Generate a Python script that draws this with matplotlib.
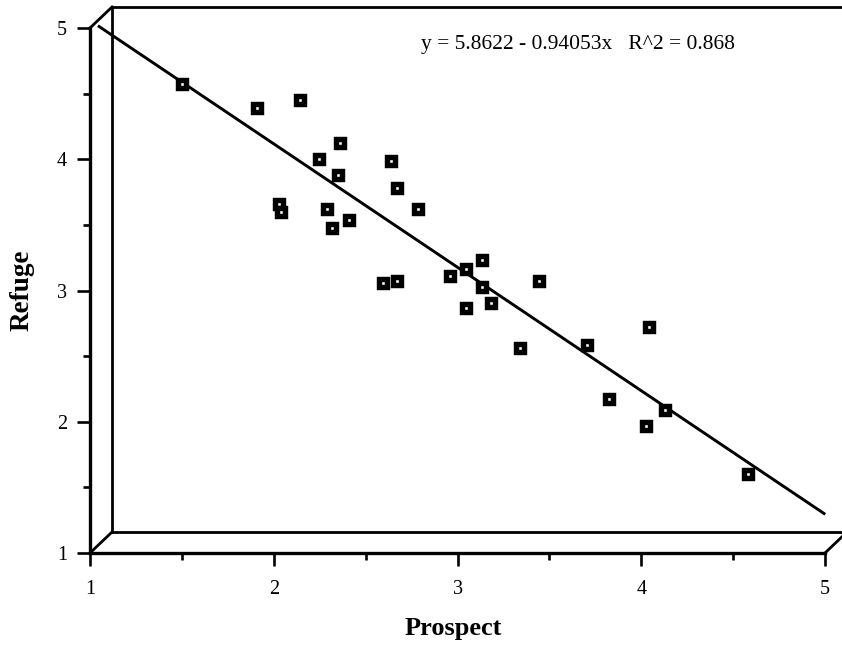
import numpy as np
import matplotlib
matplotlib.use("Agg")
import matplotlib.pyplot as plt
from matplotlib.markers import MarkerStyle
from matplotlib.ticker import MultipleLocator

# ==== data ====
prospect = [1.442, 1.851, 2.085, 2.302, 2.186, 2.580, 2.288, 2.609, 2.725, 1.969,
            1.981, 2.230, 2.348, 2.259, 2.536, 2.609, 2.899, 2.986, 3.075, 3.075,
            3.120, 2.986, 3.384, 3.282, 3.647, 3.981, 3.763, 4.071, 3.968, 4.523]
refuge = [4.491, 4.308, 4.369, 4.044, 3.924, 3.904, 3.802, 3.701, 3.539, 3.579,
          3.516, 3.539, 3.457, 3.394, 2.975, 2.990, 3.030, 3.086, 3.150, 2.947,
          2.827, 2.784, 2.990, 2.480, 2.501, 2.640, 2.090, 2.011, 1.890, 1.524]
intercept = 5.8622
slope = -0.94053
r_squared = 0.868
fit_range = [0.99, 4.935]
ticks = [1, 2, 3, 4, 5]

plt.rcParams['font.family'] = 'serif'
plt.rcParams['font.serif'] = ['Liberation Serif', 'DejaVu Serif']

W, H = 842, 648
fig = plt.figure(figsize=(W / 100, H / 100), dpi=100)


def box(left, top, width, height):
    # pixel box (from top-left) -> figure fraction
    return [left / W, 1 - (top + height) / H, width / W, height / H]


# ==== front frame with the ticks ====
front = fig.add_axes(box(90, 28, 735, 525))
front.patch.set_visible(False)
front.set_xlim(1, 5)
front.set_ylim(1, 5)
front.set_xticks(ticks)
front.set_yticks(ticks)
front.xaxis.set_minor_locator(MultipleLocator(0.5))
front.yaxis.set_minor_locator(MultipleLocator(0.5))
for side in ['top', 'right']:
    front.spines[side].set_visible(False)
for side in ['left', 'bottom']:
    front.spines[side].set_linewidth(2.4)
    front.spines[side].set_capstyle('projecting')
front.tick_params(which='major', direction='out', length=9.4, width=1.9, labelsize=14.5)
front.tick_params(which='minor', direction='out', length=5, width=1.9)
front.tick_params(axis='x', which='major', pad=10)
front.tick_params(axis='y', which='major', pad=7)

# ---- back frame, pushed into the page ----
dx, dy = 22 / 735, 21 / 525
kw = dict(transform=front.transAxes, clip_on=False, color='black',
          lw=2.0, solid_capstyle='projecting')
front.plot([dx, dx, 1 + dx, 1 + dx], [dy, 1 + dy, 1 + dy, dy], **kw)
front.plot([dx, 1 + dx], [dy, dy], **kw)
front.plot([0, dx], [0, dy], **kw)
front.plot([0, dx], [1, 1 + dy], **kw)
front.plot([1, 1 + dx], [0, dy], **kw)

# ==== data plane, halfway between the frames ====
ax = fig.add_axes(box(101, 17.5, 735, 525))
ax.set_axis_off()
ax.set_xlim(1, 5)
ax.set_ylim(1, 5)

xs = np.array(fit_range)
ax.plot(xs, intercept + slope * xs, color='black', lw=2.1, clip_on=False)
ax.plot(prospect, refuge, linestyle='none',
        marker=MarkerStyle('s', joinstyle='miter'), ms=6.0, mew=3.9,
        mfc='white', mec='black', clip_on=False)

# ==== texts ====
eq = "y = %s - %sx   R^2 = %s" % (intercept, abs(slope), r_squared)
fig.text(578 / W, 1 - 49 / H, eq, ha='center', va='baseline', fontsize=15.5)
fig.text(453 / W, 1 - 628 / H, 'Prospect', ha='center', va='center',
         fontsize=19, fontweight='bold')
fig.text(22 / W, 1 - 290 / H, 'Refuge', ha='center', va='center',
         rotation=90, fontsize=19.5, fontweight='bold')

fig.savefig('out.png', dpi=100)
